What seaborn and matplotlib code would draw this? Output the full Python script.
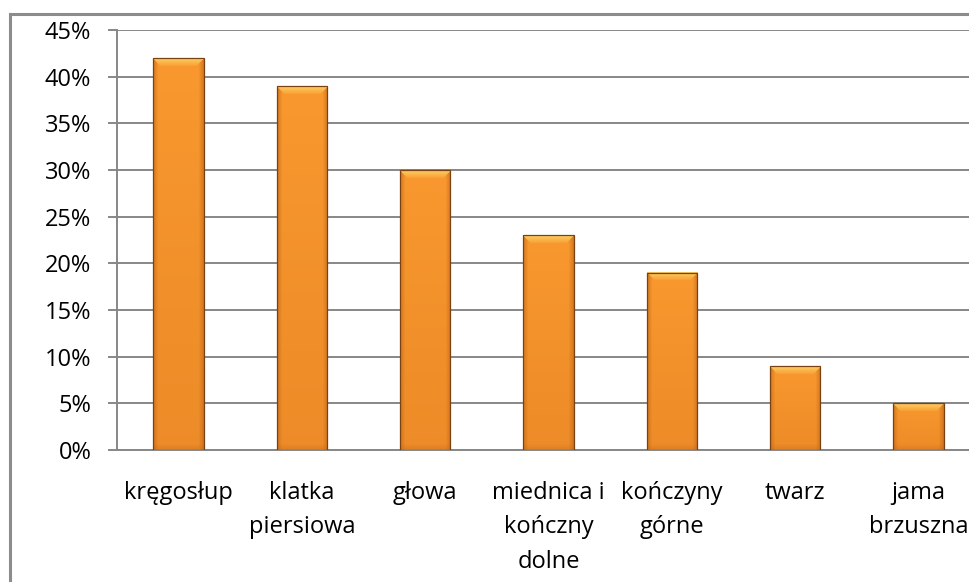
import numpy as np
import pandas as pd
import matplotlib
matplotlib.use("Agg")
import matplotlib.pyplot as plt
import seaborn as sns
from matplotlib.patches import Rectangle
from matplotlib.colors import to_rgb

# Share of injuries by body region (%)
categories = ["kręgosłup", "klatka\npiersiowa", "głowa", "miednica i\nkończny\ndolne",
              "kończyny\ngórne", "twarz", "jama\nbrzuszna"]
shares = [42, 39, 30, 23, 19, 9, 5]
y_ticks = [0, 5, 10, 15, 20, 25, 30, 35, 40, 45]
y_tick_labels = [f"{v}%" for v in y_ticks]

sns.set_theme(style="white")
plt.rcParams["font.family"] = ["Open Sans", "DejaVu Sans"]

W, H = 970, 582
fig = plt.figure(figsize=(W / 100, H / 100), dpi=100)
fig.patch.set_facecolor("white")

# outer chart frame
fig.patches.append(Rectangle((10 / W, -0.1), 1.2, 1 - 14 / H + 0.1, transform=fig.transFigure,
                             fill=False, edgecolor="#8c8c8c", linewidth=2.2, zorder=0))

ax = fig.add_axes([117 / W, 1 - 450 / H, 863 / W, 420 / H])
ax.set_facecolor("none")

df = pd.DataFrame({"region": categories, "share": shares})
base = "#F8982E"
sns.barplot(data=df, x="region", y="share", color=base, saturation=1, width=0.41,
            edgecolor="none", linewidth=0, ax=ax, zorder=3)

ax.set_xlim(-0.5, len(categories) - 0.5)
ax.set_ylim(0, 45)

# shaded, bevelled fill for each bar
fig.canvas.draw()
c_mid = np.array(to_rgb(base))
c_dark = np.array(to_rgb("#E27F22"))
c_edge = np.array(to_rgb("#C0661A"))
c_light = np.array(to_rgb("#FDD266"))
for p in list(ax.patches):
    x0, y0, w, h = p.get_x(), p.get_y(), p.get_width(), p.get_height()
    bb = p.get_window_extent()
    nx, ny = max(int(round(bb.width)), 4), max(int(round(bb.height)), 4)
    rows = np.arange(ny)[:, None] * np.ones((1, nx))
    cols = np.ones((ny, 1)) * np.arange(nx)[None, :]
    t = rows / max(ny - 1, 1)
    img = c_mid[None, None, :] * (1 - 0.5 * t[..., None]) + c_dark[None, None, :] * (0.5 * t[..., None])
    dist = np.minimum(cols, nx - 1 - cols)
    e = np.clip(1 - dist / 5.0, 0, 1)[..., None]
    img = img * (1 - 0.6 * e) + c_edge * 0.6 * e
    bev = 8
    top = (rows < bev) & (cols >= rows) & (cols <= nx - 1 - rows)
    tb = np.clip(1.1 - rows / bev, 0, 1)[..., None]
    img = np.where(top[..., None], img * (1 - 0.85 * tb) + c_light * 0.85 * tb, img)
    dist_b = ny - 1 - rows
    eb = np.clip(1 - dist_b / 6.0, 0, 1)[..., None]
    img = img * (1 - 0.35 * eb) + c_edge * 0.35 * eb
    ax.imshow(np.clip(img, 0, 1), extent=(x0, x0 + w, y0, y0 + h), origin="upper",
              aspect="auto", interpolation="bilinear", zorder=3.5)
    ax.add_patch(Rectangle((x0, y0), w, h, fill=False, edgecolor="#7a4210",
                           linewidth=0.9, zorder=4))
    p.set_visible(False)

ax.set_xlim(-0.5, len(categories) - 0.5)
ax.set_ylim(0, 45)

# gridlines and axes
grid_c = "#878787"
ax.set_yticks(y_ticks)
ax.set_yticklabels(y_tick_labels)
ax.yaxis.grid(True, color=grid_c, linewidth=1.4, zorder=1)
ax.set_axisbelow(True)
for s in ["top", "right"]:
    ax.spines[s].set_visible(False)
for s in ["left", "bottom"]:
    ax.spines[s].set_color(grid_c)
    ax.spines[s].set_linewidth(1.4)
    ax.spines[s].set_zorder(2)

ax.set_xticks(np.arange(len(categories)))
ax.set_xticklabels(categories, linespacing=1.6, va="top")
ax.set_xticks(np.arange(len(categories) + 1) - 0.5, minor=True)
ax.tick_params(axis="x", which="major", length=0, pad=22, labelsize=17, colors="black")
ax.tick_params(axis="x", which="minor", length=6.5, width=1.4, color=grid_c, direction="out")
ax.tick_params(axis="y", which="major", length=6.5, width=1.4, color=grid_c, direction="out",
               pad=12, labelsize=17, labelcolor="black", left=True)
ax.set_xlabel("")
ax.set_ylabel("")

fig.savefig("out.png", dpi=100)
